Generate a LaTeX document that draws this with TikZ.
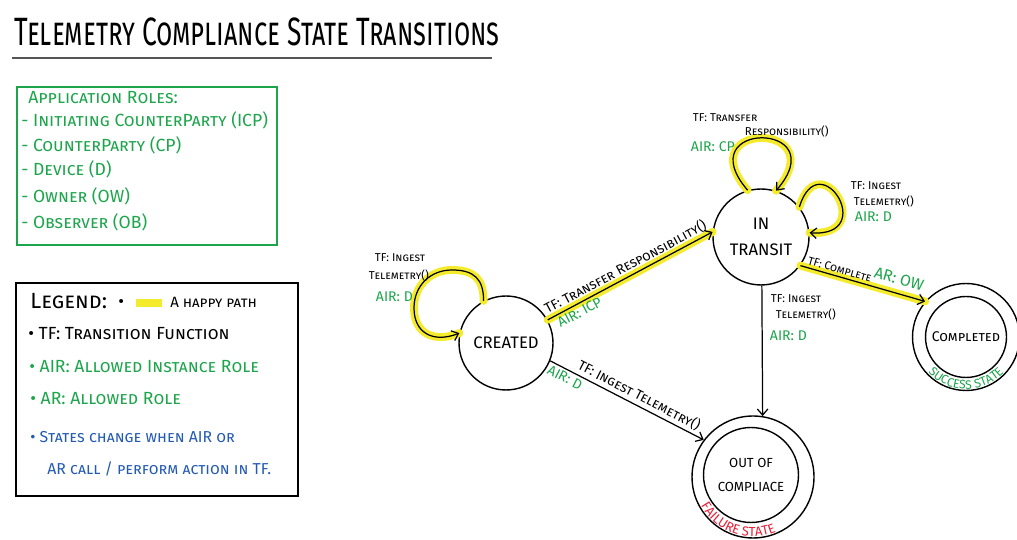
\documentclass[tikz,border=0pt]{standalone}
\usepackage{fontspec}
\setmainfont{Fira Sans}
\usetikzlibrary{arrows.meta,decorations.text}
\definecolor{rolegreen}{RGB}{28,165,75}
\definecolor{noteblue}{RGB}{35,90,180}
\definecolor{failred}{RGB}{235,30,55}
\definecolor{happy}{RGB}{245,235,45}
\definecolor{rulegray}{RGB}{85,85,85}
\tikzset{
  statenode/.style={circle, draw, line width=0.8pt, inner sep=0pt, align=center,
    font=\fontsize{9.5}{15}\selectfont},
  ringnode/.style={circle, draw, line width=0.8pt, inner sep=0pt},
  lbl/.style={font=\scshape\fontsize{6.5}{8}\selectfont, inner sep=1.5pt},
  edgelbl/.style={font=\scshape\fontsize{7.8}{9}\selectfont, inner sep=1.5pt},
  airlbl/.style={font=\scshape\fontsize{8}{9}\selectfont, text=rolegreen, inner sep=1.5pt},
  edge/.style={-{Straight Barb[length=3.5pt,width=6pt]}, line width=0.7pt},
  happypath/.style={line width=4.5pt, draw=happy, line cap=round},
  roletext/.style={anchor=base west, font=\scshape\fontsize{10}{12}\selectfont,
    text=rolegreen, inner sep=0pt},
  legtext/.style={anchor=base west, font=\scshape\fontsize{10}{12}\selectfont, inner sep=0pt},
}
\begin{document}
\begin{tikzpicture}[x=0.02cm,y=0.02cm]
\useasboundingbox (0,0) rectangle (1017,540);

% ---- title ----
\node[anchor=base west, font=\scshape\fontsize{15}{18}\selectfont, inner sep=0pt]
  (title) at (14,494) {\scalebox{1}[1.5]{Telemetry Compliance State Transitions}};
\draw[rulegray, line width=1.2pt] (12,482) -- (492,482);

% ---- application roles ----
\draw[rolegreen, line width=1pt] (17,295) rectangle (277,453);
\node[roletext] (r0) at (28,436) {Application Roles:};
\node[roletext] (r1) at (21,413) {- Initiating CounterParty (ICP)};
\node[roletext] (r2) at (21,388) {- CounterParty (CP)};
\node[roletext] (r3) at (21,364) {- Device (D)};
\node[roletext] (r4) at (21,337) {- Owner (OW)};
\node[roletext] (r5) at (21,311) {- Observer (OB)};

% ---- legend ----
\draw[black, line width=1pt] (16,44) rectangle (298,257);
\node[legtext, font=\scshape\fontsize{12.5}{14}\selectfont] (lg0) at (30,231) {Legend:};
\node[legtext] (lgb) at (118,232) {•};
\draw[happy, line width=4pt] (136,237) -- (162,237);
\node[legtext, font=\scshape\fontsize{8.5}{10}\selectfont] (lg1) at (170,232) {A happy path};
\node[legtext] (lg2) at (28,200) {• TF: Transition Function};
\node[legtext, text=rolegreen] (lg3) at (29,167) {• AIR: Allowed Instance Role};
\node[legtext, text=rolegreen] (lg4) at (30,135) {• AR: Allowed Role};
\node[legtext, text=noteblue, font=\scshape\fontsize{9}{11}\selectfont] (lg5) at (30,97) {• States change when AIR or};
\node[legtext, text=noteblue, font=\scshape\fontsize{9}{11}\selectfont] (lg6) at (47,65) {AR call / perform action in TF.};

% ---- states ----
\node[statenode, minimum size=1.88cm] (created) at (506,197) {CREATED};
\node[statenode, minimum size=1.92cm] (transit) at (761,303) {IN\\TRANSIT};
\node[ringnode, minimum size=2.14cm] (completed) at (966,203) {};
\node[ringnode, minimum size=1.62cm, font=\scshape\fontsize{8}{9}\selectfont] (completedin) at (966,203) {Completed};
\node[ringnode, minimum size=2.44cm] (ooc) at (753,63) {};
\node[ringnode, minimum size=1.9cm, align=center, font=\fontsize{7.5}{13.5}\selectfont] (oocin) at (751,65) {OUT OF\\COMPLIACE};

% ---- captions set along the rings ----
\path[decorate, decoration={text along path, text align=center,
    text={|\fontsize{7}{8}\selectfont\color{rolegreen}|SUCCESS STATE}}]
  ([shift={(210:1.04cm)}]completed.center) arc[start angle=210, end angle=330, radius=1.04cm];
\path[decorate, decoration={text along path, text align=center,
    text={|\fontsize{7.5}{9}\selectfont\color{failred}|FAILURE STATE}}]
  ([shift={(192:1.19cm)}]ooc.center) arc[start angle=192, end angle=310, radius=1.19cm];

% ---- loop waypoints ----
\coordinate (cltop) at (452,270);
\coordinate (clleft) at (414,232);

% ---- happy path highlights ----
\draw[happypath] (created.118) .. controls +(0,22) and +(22,0) .. (cltop)
  .. controls +(-22,0) and +(0,22) .. (clleft)
  .. controls +(0,-26) and +(-25,-10) .. (created.168);
\draw[happypath] (created.29) -- (transit.174);
\draw[happypath] (transit.106) .. controls +(-60,70) and +(60,70) .. (transit.72);
\draw[happypath] (transit.38) .. controls +(20,65) and +(70,-5) .. (transit.5);
\draw[happypath] (transit.-36) -- (completed.139);

% ---- transitions ----
\draw[edge] (created.118) .. controls +(0,22) and +(22,0) .. (cltop)
  .. controls +(-22,0) and +(0,22) .. (clleft)
  .. controls +(0,-26) and +(-25,-10) .. (created.168);
\node[lbl, anchor=base west] (l1a) at (372,278) {TF: Ingest};
\node[lbl, anchor=base west] (l1b) at (366,260) {Telemetry()};
\node[airlbl, anchor=base west] (l1c) at (373,238) {AIR: D};

\draw[edge] (created.29) --
  node[edgelbl, sloped, above, pos=0.5] (l2a) {TF: Transfer Responsibility()}
  node[airlbl, sloped, below, pos=0.17] (l2b) {AIR: ICP}
  (transit.174);

\draw[edge] (created.-22) --
  node[edgelbl, sloped, above, pos=0.55] (l3a) {TF: Ingest Telemetry()}
  node[airlbl, sloped, below, pos=0.12] (l3b) {AIR: D}
  (ooc.143);

\draw[edge] (transit.106) .. controls +(-60,70) and +(60,70) .. (transit.72);
\node[lbl, anchor=base west] (l4a) at (690,418) {TF: Transfer};
\node[lbl, anchor=base west] (l4b) at (742,404) {Responsibility()};
\node[airlbl, anchor=base west] (l4c) at (688,388) {AIR: CP};

\draw[edge] (transit.38) .. controls +(20,65) and +(70,-5) .. (transit.5);
\node[lbl, anchor=base west] (l5a) at (848,350) {TF: Ingest};
\node[lbl, anchor=base west] (l5b) at (851,334) {Telemetry()};
\node[airlbl, anchor=base west] (l5c) at (852,318) {AIR: D};

\draw[edge] (transit.-36) --
  node[lbl, sloped, above, pos=0.3] (l6a) {TF: Complete}
  node[airlbl, font=\scshape\fontsize{9}{10}\selectfont, sloped, above=3pt, pos=0.76] (l6b) {AR: OW}
  (completed.139);

\draw[edge] (transit.-89) -- (ooc.81);
\node[lbl, anchor=base west] (l7a) at (768,237) {TF: Ingest};
\node[lbl, anchor=base west] (l7b) at (773,221) {Telemetry()};
\node[airlbl, anchor=base west] (l7c) at (767,199) {AIR: D};
\end{tikzpicture}
\end{document}
